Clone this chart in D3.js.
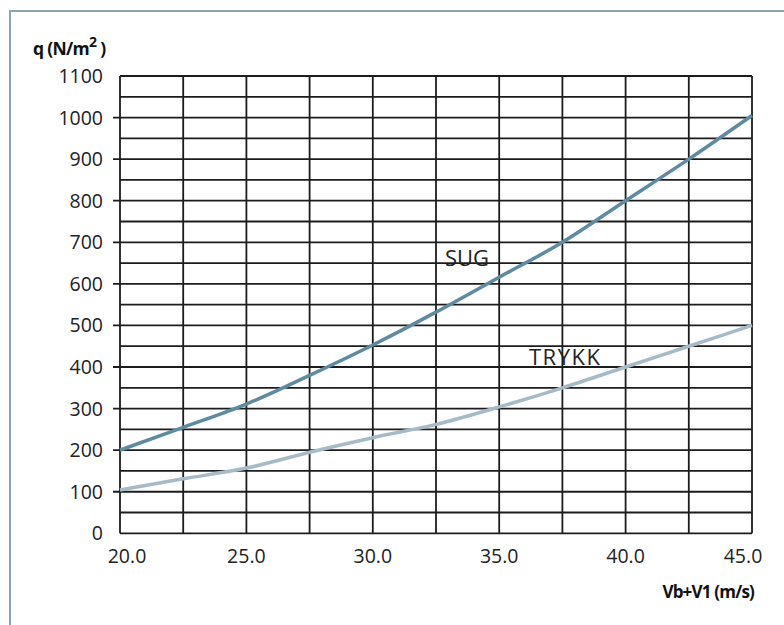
<!DOCTYPE html>
<html><head><meta charset="utf-8">
<script src="https://cdn.jsdelivr.net/npm/d3@7"></script>
<style>
body{margin:0;background:#fff;}
svg{display:block;font-family:"Open Sans","Noto Sans",sans-serif;}
</style></head>
<body><svg id="c" width="784" height="625"></svg>
<script>
const speeds = [20, 22.5, 25, 27.5, 30, 32.5, 35, 37.5, 40, 42.5, 45];
const sug =    [200, 255, 311, 380, 453, 532, 616, 700, 800, 900, 1005];
const trykk =  [104, 131, 157, 195, 230, 262, 304, 350, 400, 450, 500];
const xTickLabels = ["20.0","25.0","30.0","35.0","40.0","45.0"];
const yTickLabels = ["0","100","200","300","400","500","600","700","800","900","1000","1100"];

const svg = d3.select("#c");
const L=120, R=752, T=76, B=533.3;
const x = d3.scaleLinear().domain([20,45]).range([L,R]);
const y = d3.scaleLinear().domain([0,1100]).range([B,T]);

// frame
svg.append("path").attr("d",`M10,625 L10,11 L784,11`).attr("fill","none")
  .attr("stroke","#86a6b6").attr("stroke-width",2);

const g = svg.append("g");
d3.range(20,45.01,2.5).forEach(v=>{
  g.append("line").attr("x1",x(v)).attr("x2",x(v)).attr("y1",y(0)).attr("y2",y(1100))
   .attr("stroke","#1c1c1c").attr("stroke-width",1.8);
});
d3.range(0,1100.1,50).forEach(v=>{
  const tick = (v%100===0 && v>0 && v<1100);
  g.append("line").attr("x1",tick?L-7:L).attr("x2",R).attr("y1",y(v)).attr("y2",y(v))
   .attr("stroke","#1c1c1c").attr("stroke-width",1.8);
});

yTickLabels.forEach(t=>{
  svg.append("text").attr("x",103).attr("y",y(+t)).attr("dy","0.36em")
    .attr("text-anchor","end").attr("font-size",19.5).attr("fill","#222").text(t);
});
xTickLabels.forEach((t,i)=>{
  const off = i===0?7:(i===xTickLabels.length-1?-9:0);
  svg.append("text").attr("x",x(+t)+off).attr("y",563).attr("text-anchor","middle")
    .attr("font-size",19.5).attr("fill","#222").text(t);
});

const line = d3.line().x((d,i)=>x(speeds[i])).y(d=>y(d)).curve(d3.curveMonotoneX);
svg.append("path").datum(trykk).attr("d",line).attr("fill","none")
  .attr("stroke","#a7bbc7").attr("stroke-width",3.5);
svg.append("path").datum(sug).attr("d",line).attr("fill","none")
  .attr("stroke","#5e8b9f").attr("stroke-width",3.5);

svg.append("text").attr("x",445).attr("y",266).attr("font-size",22).attr("fill","#222").text("SUG");
svg.append("text").attr("x",529).attr("y",365).attr("font-size",22).attr("letter-spacing",1.5).attr("fill","#222").text("TRYKK");

const yt = svg.append("text").attr("x",33).attr("y",55).attr("font-size",17.5).attr("font-weight","bold")
  .attr("letter-spacing",-0.7).attr("fill","#111");
yt.append("tspan").text("q (N/m");
yt.append("tspan").attr("dy",-8).attr("font-size",14).text("2");
yt.append("tspan").attr("dy",8).text(" )");
svg.append("text").attr("x",754).attr("y",598).attr("text-anchor","end").attr("font-size",17)
  .attr("font-weight","bold").attr("letter-spacing",-0.8).attr("fill","#111").text("Vb+V1 (m/s)");
</script></body></html>
